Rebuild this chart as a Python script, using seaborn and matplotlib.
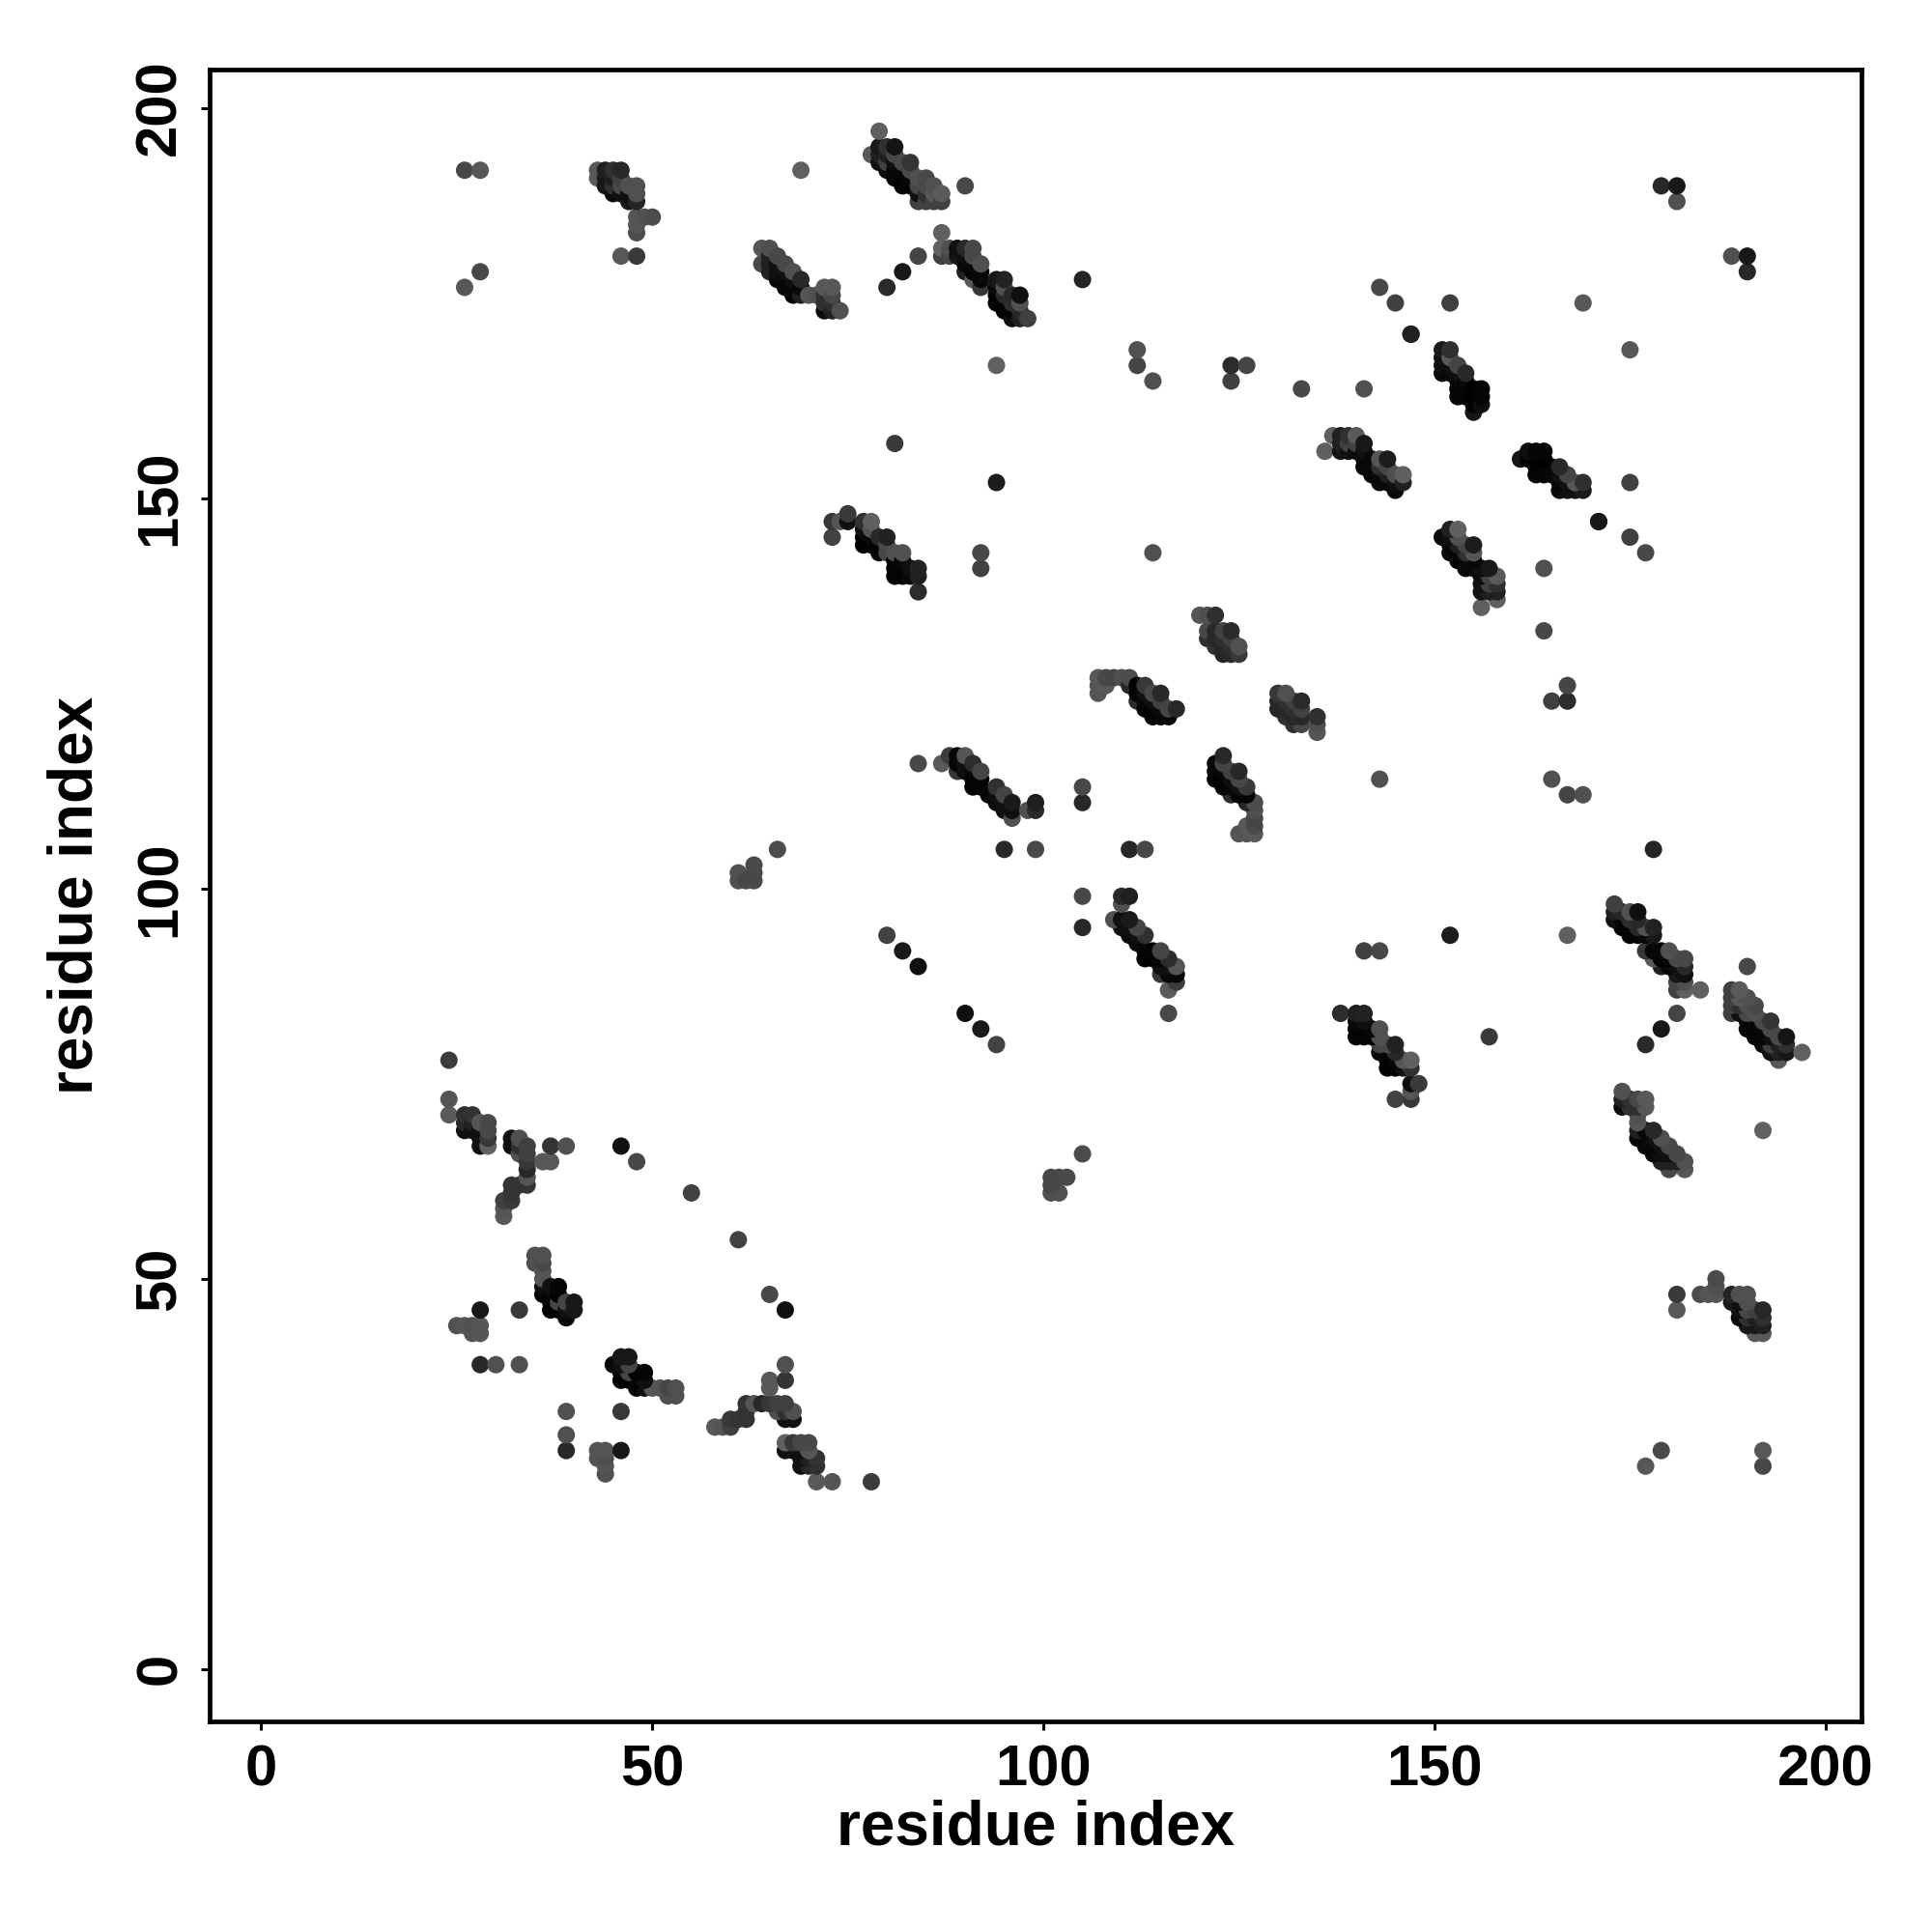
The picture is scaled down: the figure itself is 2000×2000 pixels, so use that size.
import numpy as np
import pandas as pd
import matplotlib
matplotlib.use("Agg")
import matplotlib.pyplot as plt
import seaborn as sns

# contacts (residue i, residue j, grey level), i < j; the map is symmetric
strand_a = [(24,78,0x3c),(24,73,0x55),(24,71,0x5a),(26,71,0x30),(27,71,0x33),(26,70,0x28),(27,70,0x20),(26,69,0x10),(27,69,0x10),(28,69,0x10),(28,70,0x55),(29,70,0x48),(29,69,0x48),(29,68,0x38),(28,68,0x10),(28,67,0x10),(29,67,0x60)]
strand_b = [(32,68,0x10),(32,67,0x10),(33,68,0x50),(33,67,0x30),(34,67,0x40),(33,66,0x50),(34,66,0x40),(34,65,0x38),(34,64,0x28),(34,63,0x55),(34,62,0x33),(33,62,0x33),(32,62,0x33),(32,61,0x35),(31,60,0x40),(32,60,0x38),(31,59,0x55),(31,58,0x58),(36,65,0x58),(37,65,0x58),(37,67,0x35),(39,67,0x50),(46,67,0x10),(48,65,0x48),(55,61,0x42)]
strand_c = [(35,53,0x50),(36,53,0x50),(35,52,0x50),(36,52,0x48),(36,51,0x55),(36,50,0x58),(36,49,0x10),(36,48,0x05),(37,49,0x10),(38,49,0x05),(37,48,0x05),(37,47,0x02),(37,46,0x02),(38,48,0x02),(38,47,0x45),(38,46,0x02),(39,47,0x45),(39,46,0x10),(39,45,0x08),(40,47,0x18),(40,46,0x18)]
group_d = [(28,46,0x18),(33,46,0x38),(25,44,0x50),(26,44,0x55),(27,44,0x50),(28,44,0x55),(27,43,0x55),(28,43,0x55),(28,39,0x28),(30,39,0x50),(33,39,0x50)]
strand_f = [(43,192,0x58),(43,191,0x5a),(44,192,0x20),(45,192,0x30),(46,192,0x28),(44,191,0x18),(44,190,0x18),(45,191,0x20),(45,190,0x30),(45,189,0x0a),(46,190,0x48),(46,189,0x10),(46,191,0x40),(47,190,0x50),(47,189,0x10),(47,188,0x18),(48,190,0x50),(48,189,0x50),(48,188,0x25),(48,186,0x55),(49,186,0x50),(50,186,0x4c),(48,185,0x55),(48,184,0x4c),(46,181,0x58),(48,181,0x3a),(26,192,0x48),(28,192,0x58),(26,177,0x58),(28,179,0x48)]
strand_g = [(64,182,0x55),(65,182,0x50),(64,180,0x48),(65,181,0x20),(65,180,0x20),(65,179,0x20),(66,181,0x48),(66,180,0x10),(66,179,0x10),(66,178,0x08),(67,180,0x48),(67,179,0x10),(67,178,0x08),(67,177,0x08),(68,179,0x50),(68,178,0x10),(68,177,0x08),(68,176,0x08),(69,178,0x28),(69,177,0x08),(69,176,0x20),(70,176,0x55),(71,176,0x50),(72,177,0x58),(73,177,0x58),(72,176,0x30),(73,176,0x48),(72,175,0x30),(72,174,0x0c),(73,175,0x30),(73,174,0x20),(74,174,0x50),(69,192,0x60)]
strand_h = [(79,197,0x60),(78,194,0x58),(79,195,0x18),(80,195,0x30),(81,195,0x15),(79,194,0x20),(80,194,0x20),(79,193,0x10),(80,193,0x40),(80,192,0x0c),(81,194,0x48),(81,193,0x10),(81,192,0x08),(81,191,0x08),(82,193,0x48),(82,192,0x08),(82,191,0x04),(82,190,0x05),(83,193,0x35),(83,192,0x48),(83,191,0x08),(83,190,0x05),(84,191,0x50),(84,190,0x48),(84,189,0x10),(84,188,0x40),(85,191,0x48),(85,190,0x4c),(85,189,0x30),(85,188,0x40),(86,190,0x50),(86,189,0x58),(86,188,0x40),(87,189,0x5a),(87,188,0x40),(90,190,0x48)]
strand_i = [(87,184,0x60),(87,182,0x60),(87,181,0x40),(88,182,0x50),(88,181,0x45),(89,182,0x10),(89,181,0x18),(90,182,0x28),(90,181,0x10),(90,180,0x08),(90,179,0x20),(91,182,0x48),(91,181,0x48),(91,180,0x08),(91,179,0x04),(91,178,0x58),(92,180,0x50),(92,179,0x08),(92,178,0x08),(92,177,0x38),(94,178,0x18),(94,177,0x08),(94,176,0x04),(94,175,0x04),(95,178,0x22),(95,177,0x50),(95,176,0x28),(95,175,0x04),(95,174,0x04),(96,176,0x28),(96,175,0x30),(96,174,0x04),(96,173,0x10),(97,176,0x10),(97,175,0x50),(97,174,0x28),(97,173,0x20),(98,173,0x40),(94,167,0x60),(105,178,0x25),(80,177,0x2a),(82,179,0x18),(84,181,0x45)]
strand_j = [(137,158,0x60),(136,156,0x60),(138,158,0x20),(138,157,0x20),(138,156,0x15),(139,158,0x30),(139,157,0x40),(139,156,0x10),(140,158,0x5a),(140,157,0x40),(140,156,0x0c),(141,157,0x18),(141,156,0x10),(141,155,0x08),(141,154,0x0a),(142,155,0x08),(142,154,0x08),(142,153,0x04),(143,155,0x55),(143,154,0x30),(143,153,0x08),(143,152,0x0a),(144,155,0x1c),(144,154,0x45),(144,153,0x20),(144,152,0x08),(145,153,0x50),(145,152,0x10),(145,151,0x0a),(146,153,0x60),(146,152,0x20)]
strand_k = [(151,169,0x1a),(152,169,0x30),(151,168,0x10),(151,167,0x10),(151,166,0x0a),(152,168,0x58),(152,167,0x10),(152,166,0x08),(153,167,0x45),(153,166,0x10),(153,165,0x08),(154,166,0x28),(154,165,0x08),(154,164,0x04),(153,164,0x05),(153,163,0x05),(154,163,0x04),(155,164,0x02),(155,163,0x02),(155,162,0x04),(155,161,0x15),(156,164,0x05),(156,163,0x05),(156,162,0x0e)]
strand_n = [(73,147,0x38),(73,145,0x42),(74,147,0x55),(75,148,0x3a),(75,147,0x10),(77,147,0x30),(78,147,0x60),(77,146,0x10),(77,145,0x04),(77,144,0x02),(78,146,0x55),(78,145,0x08),(78,144,0x04),(79,145,0x28),(79,144,0x04),(79,143,0x08),(80,145,0x22),(80,144,0x48),(80,143,0x45),(81,143,0x50),(82,143,0x50),(81,142,0x04),(81,141,0x04),(82,142,0x08),(82,141,0x04),(81,140,0x04),(82,140,0x04),(83,141,0x10),(83,140,0x08),(84,141,0x22),(84,140,0x20),(84,138,0x2c)]
strand_o = [(107,127,0x58),(107,126,0x55),(107,125,0x55),(108,127,0x48),(108,126,0x58),(109,127,0x45),(110,127,0x50),(111,127,0x4c),(111,126,0x28),(112,126,0x04),(113,126,0x38),(112,125,0x04),(112,124,0x2c),(113,125,0x10),(113,124,0x08),(113,123,0x04),(114,125,0x48),(115,125,0x28),(114,124,0x10),(114,123,0x04),(114,122,0x02),(115,124,0x40),(115,123,0x08),(115,122,0x04),(116,123,0x45),(116,122,0x08),(117,123,0x28)]
strand_p = [(120,135,0x55),(121,135,0x50),(122,135,0x30),(121,133,0x48),(121,132,0x2f),(122,133,0x28),(122,132,0x28),(122,131,0x30),(123,133,0x42),(123,132,0x30),(123,131,0x28),(123,130,0x25),(124,133,0x2a),(124,132,0x40),(124,131,0x30),(124,130,0x28),(125,131,0x50),(125,130,0x38)]
strand_s = [(84,116,0x48),(87,116,0x5a),(88,117,0x3c),(89,117,0x08),(90,117,0x55),(89,116,0x08),(89,115,0x38),(90,116,0x10),(90,115,0x10),(91,116,0x2c),(91,115,0x08),(91,114,0x04),(91,113,0x02),(92,115,0x45),(92,114,0x04),(92,113,0x04),(94,113,0x30),(93,112,0x08),(94,112,0x10),(94,111,0x08),(95,112,0x45),(95,111,0x10),(95,110,0x10),(96,111,0x1a),(96,110,0x10),(96,109,0x50),(98,110,0x50),(99,111,0x20),(99,110,0x2a)]
singles = [(61,102,0x50),(61,101,0x50),(62,101,0x48),(63,101,0x48),(63,102,0x48),(63,103,0x4a),(66,105,0x4c),(80,94,0x42),(82,92,0x1a),(84,90,0x10),(81,157,0x3a),(94,152,0x1c),(92,143,0x48),(92,141,0x40),(95,105,0x28),(99,105,0x48),(105,113,0x48),(105,111,0x28),(114,143,0x50),(179,190,0x28),(181,190,0x18),(181,188,0x50),(143,177,0x48),(145,175,0x40),(147,171,0x18),(152,175,0x40),(169,175,0x58),(133,164,0x48),(141,164,0x50),(171,147,0x22),(124,167,0x2c),(124,165,0x40),(126,167,0x45),(112,169,0x50),(112,167,0x45),(114,165,0x50)]

x_ticks = [0, 50, 100, 150, 200]
y_ticks = [0, 50, 100, 150, 200]
x_label = "residue index"
y_label = "residue index"

contacts = strand_a + strand_b + strand_c + group_d + strand_f + strand_g + strand_h + strand_i + strand_j + strand_k + strand_n + strand_o + strand_p + strand_s + singles
upper = pd.DataFrame(contacts, columns=["i", "j", "grey"])
lower = upper.rename(columns={"i": "j", "j": "i"})
df = pd.concat([upper, lower], ignore_index=True)
df = df.iloc[np.argsort((df["i"] + df["j"]).to_numpy(), kind="stable")].reset_index(drop=True)
df["colour"] = [f"#{g:02x}{g:02x}{g:02x}" for g in df["grey"]]

sns.set_theme(style="white")
plt.rcParams["font.family"] = ["Liberation Sans", "DejaVu Sans"]
plt.rcParams["font.weight"] = "bold"

fig = plt.figure(figsize=(10, 10), dpi=200, facecolor="white")
ax = fig.add_axes([217 / 2000, 1 - 1782 / 2000, 1710 / 2000, 1710 / 2000])
palette = {c: c for c in df["colour"].unique()}
sns.scatterplot(data=df, x="i", y="j", hue="colour", palette=palette, hue_order=None,
                s=42, linewidth=0, legend=False, ax=ax, alpha=1)
# draw in frame order regardless of hue grouping
ax.set_xlim(-6.6, 204.6)
ax.set_ylim(-6.7, 204.9)
ax.set_xticks(x_ticks)
ax.set_yticks(y_ticks)
ax.tick_params(axis="both", which="major", length=3.4, width=1.1, color="black",
               labelsize=21.5, labelcolor="black", left=True, bottom=True)
ax.tick_params(axis="x", pad=5)
ax.tick_params(axis="y", pad=5)
for t in ax.get_yticklabels():
    t.set_rotation(90)
    t.set_va("center")
for t in ax.get_xticklabels() + ax.get_yticklabels():
    t.set_fontweight("bold")
ax.set_xlabel(x_label, fontsize=23, fontweight="bold", color="black")
ax.set_ylabel(y_label, fontsize=23, fontweight="bold", color="black")
ax.xaxis.set_label_coords(0.5, -(1893 - 1782) / 1710, transform=ax.transAxes)
ax.yaxis.set_label_coords(-(217 - 79) / 1710, 0.5, transform=ax.transAxes)
ax.xaxis.label.set_va("center")
ax.yaxis.label.set_va("center")
for s in ax.spines.values():
    s.set_visible(True)
    s.set_linewidth(1.7)
    s.set_color("black")
fig.savefig("out.png", dpi=200, facecolor="white")
